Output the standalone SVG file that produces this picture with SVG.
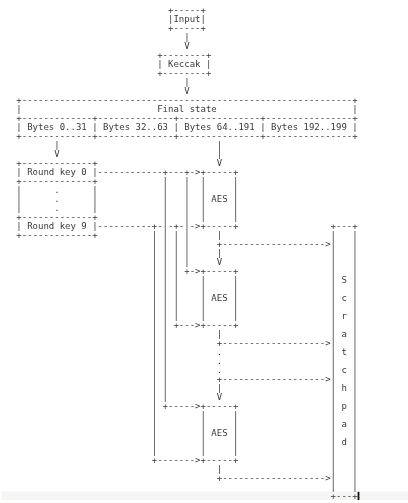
<svg xmlns="http://www.w3.org/2000/svg" width="408" height="503" viewBox="0 0 408 503">
<style>
text { font-family: "DejaVu Sans Mono", "Liberation Mono", monospace; font-size: 9px; fill: #3a3a3a; white-space: pre; }
#diagram { filter: url(#gray); }
</style>
<defs>
<filter id="gray" x="0" y="0" width="408" height="503" filterUnits="userSpaceOnUse">
<feColorMatrix type="saturate" values="0"/>
</filter>
</defs>
<rect x="0" y="0" width="408" height="503" fill="#ffffff"/>
<rect x="2" y="491.5" width="406" height="8.5" fill="#f5f5f4"/>
<g id="diagram">
<g id="input">
<text x="168.02" y="12.5">+-----+</text>
<text x="168.02" y="21.5">|Input|</text>
<text x="168.02" y="30.5">+-----+</text>
</g>
<g id="keccak">
<text x="157.18" y="57.5">+--------+</text>
<text x="157.18" y="66.5">| Keccak |</text>
<text x="157.18" y="75.5">+--------+</text>
</g>
<g id="final-state">
<text x="16.3" y="102.5">+-------------------------------------------------------------+</text>
<text x="16.3" y="111.5">|                         Final state                         |</text>
<text x="16.3" y="120.5">+-------------+--------------+---------------+----------------+</text>
<text x="16.3" y="129.5">| Bytes 0..31 | Bytes 32..63 | Bytes 64..191 | Bytes 192..199 |</text>
<text x="16.3" y="138.5">+-------------+--------------+---------------+----------------+</text>
</g>
<g id="round-keys">
<text x="16.3" y="165.5">+-------------+</text>
<text x="16.3" y="174.5">| Round key 0 |</text>
<text x="16.3" y="183.5">+-------------+</text>
<text x="16.3" y="192.5">|      .      |</text>
<text x="16.3" y="201.5">|      .      |</text>
<text x="16.3" y="210.5">|      .      |</text>
<text x="16.3" y="219.5">+-------------+</text>
<text x="16.3" y="228.5">| Round key 9 |</text>
<text x="16.3" y="237.5">+-------------+</text>
</g>
<g id="aes-1">
<text x="200.53" y="174.5">+-----+<tspan x="200.53" dy="9">|     |</tspan><tspan x="200.53" dy="9">|     |</tspan><tspan x="200.53" dy="9">| AES |</tspan><tspan x="200.53" dy="9">|     |</tspan><tspan x="200.53" dy="9">|     |</tspan><tspan x="200.53" dy="9">+-----+</tspan></text>
</g>
<g id="aes-2">
<text x="200.53" y="273.5">+-----+<tspan x="200.53" dy="9">|     |</tspan><tspan x="200.53" dy="9">|     |</tspan><tspan x="200.53" dy="9">| AES |</tspan><tspan x="200.53" dy="9">|     |</tspan><tspan x="200.53" dy="9">|     |</tspan><tspan x="200.53" dy="9">+-----+</tspan></text>
</g>
<g id="aes-3">
<text x="200.53" y="408.5">+-----+<tspan x="200.53" dy="9">|     |</tspan><tspan x="200.53" dy="9">|     |</tspan><tspan x="200.53" dy="9">| AES |</tspan><tspan x="200.53" dy="9">|     |</tspan><tspan x="200.53" dy="9">|     |</tspan><tspan x="200.53" dy="9">+-----+</tspan></text>
</g>
<g id="scratchpad">
<text x="330.57" y="228.5">+---+<tspan x="330.57" dy="9">|   |</tspan><tspan x="330.57" dy="9">|   |</tspan><tspan x="330.57" dy="9">|   |</tspan><tspan x="330.57" dy="9">|   |</tspan><tspan x="330.57" dy="9">|   |</tspan><tspan x="330.57" dy="9">| S |</tspan><tspan x="330.57" dy="9">|   |</tspan><tspan x="330.57" dy="9">| c |</tspan><tspan x="330.57" dy="9">|   |</tspan><tspan x="330.57" dy="9">| r |</tspan><tspan x="330.57" dy="9">|   |</tspan><tspan x="330.57" dy="9">| a |</tspan><tspan x="330.57" dy="9">|   |</tspan><tspan x="330.57" dy="9">| t |</tspan><tspan x="330.57" dy="9">|   |</tspan><tspan x="330.57" dy="9">| c |</tspan><tspan x="330.57" dy="9">|   |</tspan><tspan x="330.57" dy="9">| h |</tspan><tspan x="330.57" dy="9">|   |</tspan><tspan x="330.57" dy="9">| p |</tspan><tspan x="330.57" dy="9">|   |</tspan><tspan x="330.57" dy="9">| a |</tspan><tspan x="330.57" dy="9">|   |</tspan><tspan x="330.57" dy="9">| d |</tspan><tspan x="330.57" dy="9">|   |</tspan><tspan x="330.57" dy="9">|   |</tspan><tspan x="330.57" dy="9">|   |</tspan><tspan x="330.57" dy="9">|   |</tspan><tspan x="330.57" dy="9">|   |</tspan><tspan x="330.57" dy="9">+---+</tspan></text>
</g>
<g id="connectors">
<text x="184.27" y="39.5">|<tspan x="184.27" dy="9">V</tspan></text>
<text x="184.27" y="84.5">|<tspan x="184.27" dy="9">V</tspan></text>
<text x="54.23" y="147.5">|<tspan x="54.23" dy="9">V</tspan></text>
<text x="216.78" y="147.5">|<tspan x="216.78" dy="9">|</tspan><tspan x="216.78" dy="9">V</tspan></text>
<text x="97.58" y="174.5">------------+---+-&gt;</text>
<text x="162.6" y="183.5">|   |<tspan x="162.6" dy="9">|   |</tspan><tspan x="162.6" dy="9">|   |</tspan><tspan x="162.6" dy="9">|   |</tspan><tspan x="162.6" dy="9">|   |</tspan></text>
<text x="97.58" y="228.5">----------+-|-+-|-&gt;</text>
<text x="151.76" y="237.5">| | | |<tspan x="151.76" dy="9">| | | |</tspan><tspan x="151.76" dy="9">| | | |</tspan><tspan x="151.76" dy="9">| | | |</tspan><tspan x="151.76" dy="9">| | | +-&gt;</tspan><tspan x="151.76" dy="9">| | |</tspan><tspan x="151.76" dy="9">| | |</tspan><tspan x="151.76" dy="9">| | |</tspan><tspan x="151.76" dy="9">| | |</tspan><tspan x="151.76" dy="9">| | |</tspan><tspan x="151.76" dy="9">| | +---&gt;</tspan><tspan x="151.76" dy="9">| |</tspan><tspan x="151.76" dy="9">| |</tspan><tspan x="151.76" dy="9">| |</tspan><tspan x="151.76" dy="9">| |</tspan><tspan x="151.76" dy="9">| |</tspan><tspan x="151.76" dy="9">| |</tspan><tspan x="151.76" dy="9">| |</tspan><tspan x="151.76" dy="9">| |</tspan><tspan x="151.76" dy="9">| +-----&gt;</tspan><tspan x="151.76" dy="9">|</tspan><tspan x="151.76" dy="9">|</tspan><tspan x="151.76" dy="9">|</tspan><tspan x="151.76" dy="9">|</tspan><tspan x="151.76" dy="9">|</tspan><tspan x="151.76" dy="9">+-------&gt;</tspan></text>
<text x="216.78" y="237.5">|<tspan x="216.78" dy="9">+-------------------&gt;</tspan><tspan x="216.78" dy="9">|</tspan><tspan x="216.78" dy="9">V</tspan></text>
<text x="216.78" y="336.5">|<tspan x="216.78" dy="9">+-------------------&gt;</tspan><tspan x="216.78" dy="9">.</tspan><tspan x="216.78" dy="9">.</tspan><tspan x="216.78" dy="9">.</tspan><tspan x="216.78" dy="9">+-------------------&gt;</tspan><tspan x="216.78" dy="9">|</tspan><tspan x="216.78" dy="9">V</tspan></text>
<text x="216.78" y="471.5">|<tspan x="216.78" dy="9">+-------------------&gt;</tspan></text>
</g>
</g>
<rect x="357.6" y="491.8" width="1.8" height="8.2" fill="#111"/>
</svg>
